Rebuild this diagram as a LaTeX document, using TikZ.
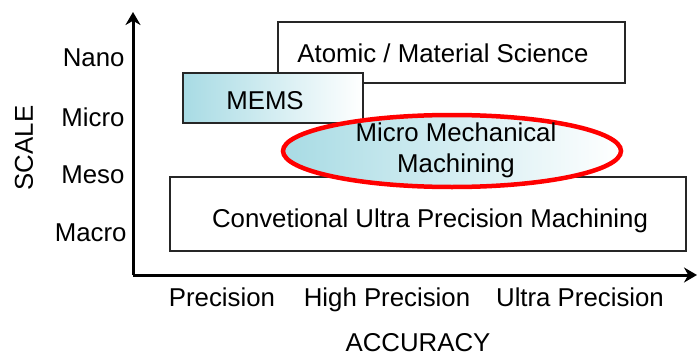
\documentclass[tikz,border=0pt]{standalone}
\usepackage{fontspec}
\setmainfont{Liberation Sans}
\usetikzlibrary{arrows.meta,shapes.geometric}
\definecolor{tealtint}{RGB}{168,219,228}

\begin{document}
\begin{tikzpicture}[x=1pt,y=-1pt,
  every node/.style={font=\fontsize{25.8}{31}\selectfont},
  axis/.style={line width=3pt,-{Stealth[length=13pt,width=15pt]}},
  area/.style={draw=black!85,line width=1.5pt,minimum height=61pt,inner sep=0pt},
  tinted/.style={left color=tealtint,middle color=white!85!tealtint,right color=white},
  level/.style={anchor=east},
  grade/.style={anchor=base}]
\useasboundingbox (0,0) rectangle (699,356);
% axes
\coordinate (origin) at (133,275);
\coordinate (ytop) at (133,12);
\coordinate (xend) at (697,275);
\draw[axis] (origin) -- (ytop);
\draw[axis] (origin) -- (xend);
% scale levels
\node[level] (nano) at (128,58) {Nano};
\node[level] (micro) at (128,117) {Micro};
\node[level] (meso) at (128,175) {Meso};
\node[level] (macro) at (130,233) {Macro};
\node[rotate=90] (scale) at (24,148) {SCALE};
% accuracy levels
\node[grade] (prec) at (222,306) {Precision};
\node[grade] (highprec) at (387,306) {High Precision};
\node[grade] (ultraprec) at (580,306) {Ultra Precision};
\node (accuracy) at (418,343) {ACCURACY};
% regions
\node[area,fill=white,minimum width=347pt] (atomic) at (451.5,52.5) {};
\node (atomictext) at (443,53) {Atomic / Material Science};
\node[area,tinted,minimum width=180pt,minimum height=50pt] (mems) at (273,98) {};
\node (memstext) at (265,101) {MEMS};
\node[area,fill=white,minimum width=516pt,minimum height=74pt] (conv) at (428,214) {};
\node (convtext) at (430,221) {Convetional Ultra Precision Machining};
\node[ellipse,draw=red,line width=4.5pt,minimum width=338pt,minimum height=72pt,
  left color=tealtint,middle color=white,right color=white] (mmm) at (452,151) {};
\node[align=center] (mmmtext) at (456,150) {Micro Mechanical\\Machining};
\end{tikzpicture}
\end{document}
